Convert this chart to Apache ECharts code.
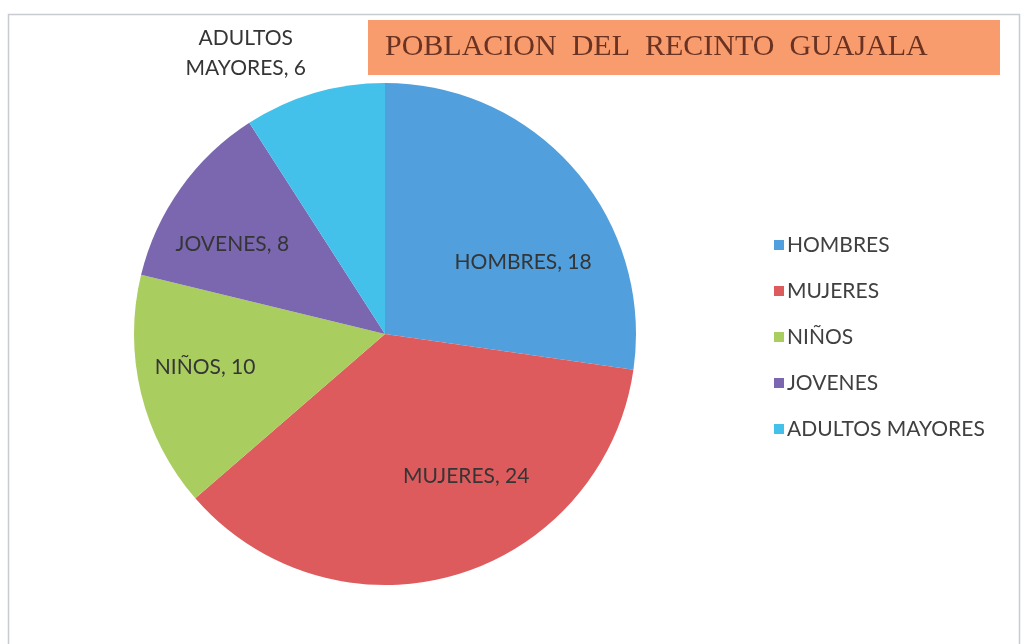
<!DOCTYPE html>
<html><head><meta charset="utf-8">
<script src="https://cdn.jsdelivr.net/npm/echarts@6/dist/echarts.min.js"></script>
<style>html,body{margin:0;padding:0;background:#fff}#c{width:1026px;height:644px}</style>
</head><body><div id="c"></div>
<script>
const categories = ['HOMBRES', 'MUJERES', 'NIÑOS', 'JOVENES', 'ADULTOS MAYORES'];
const values = [18, 24, 10, 8, 6];
const colors = ['#519fdc', '#de5b5d', '#a9cd5f', '#7a67b0', '#43c1ea'];
const labelShift = [[41, 12], [45, 19], [-55, 3], [-48, -15], [-103, -157]];

const chart = echarts.init(document.getElementById('c'));
chart.setOption({
  backgroundColor: '#ffffff',
  animation: false,
  title: {
    text: 'POBLACION  DEL  RECINTO  GUAJALA',
    left: 368, top: 20,
    backgroundColor: '#f89c6e',
    padding: [12, 10, 13, 17],
    textStyle: { fontFamily: 'Liberation Serif', fontWeight: 'normal', fontSize: 30, color: '#6a3222', width: 605, height: 30, lineHeight: 30 }
  },
  legend: {
    orient: 'vertical', left: 769, top: 229,
    itemWidth: 10, itemHeight: 10, itemGap: 24,
    icon: 'rect',
    textStyle: { fontFamily: 'Lato', fontSize: 21, color: '#404040', padding: [0, 0, 0, -2], lineHeight: 22 },
    data: categories
  },
  graphic: [{ type: 'rect', shape: { x: 8.5, y: 14.5, width: 1011, height: 640 }, style: { fill: 'none', stroke: '#c8ccd0', lineWidth: 1.5 }, silent: true }],
  series: [{
    type: 'pie',
    center: [385, 334], radius: [0, 251],
    startAngle: 90, clockwise: true,
    color: colors,
    label: {
      position: 'inside',
      formatter: function (p) { return p.dataIndex === 4 ? 'ADULTOS\nMAYORES, ' + p.value : p.name + ', ' + p.value; },
      fontFamily: 'Lato', fontSize: 21, color: '#353535', lineHeight: 30
    },
    labelLayout: function (p) { const s = labelShift[p.dataIndex]; return { dx: s[0], dy: s[1] }; },
    itemStyle: { borderWidth: 0 },
    emphasis: { disabled: true },
    data: categories.map((c, i) => ({ name: c, value: values[i] }))
  }]
});
</script></body></html>
